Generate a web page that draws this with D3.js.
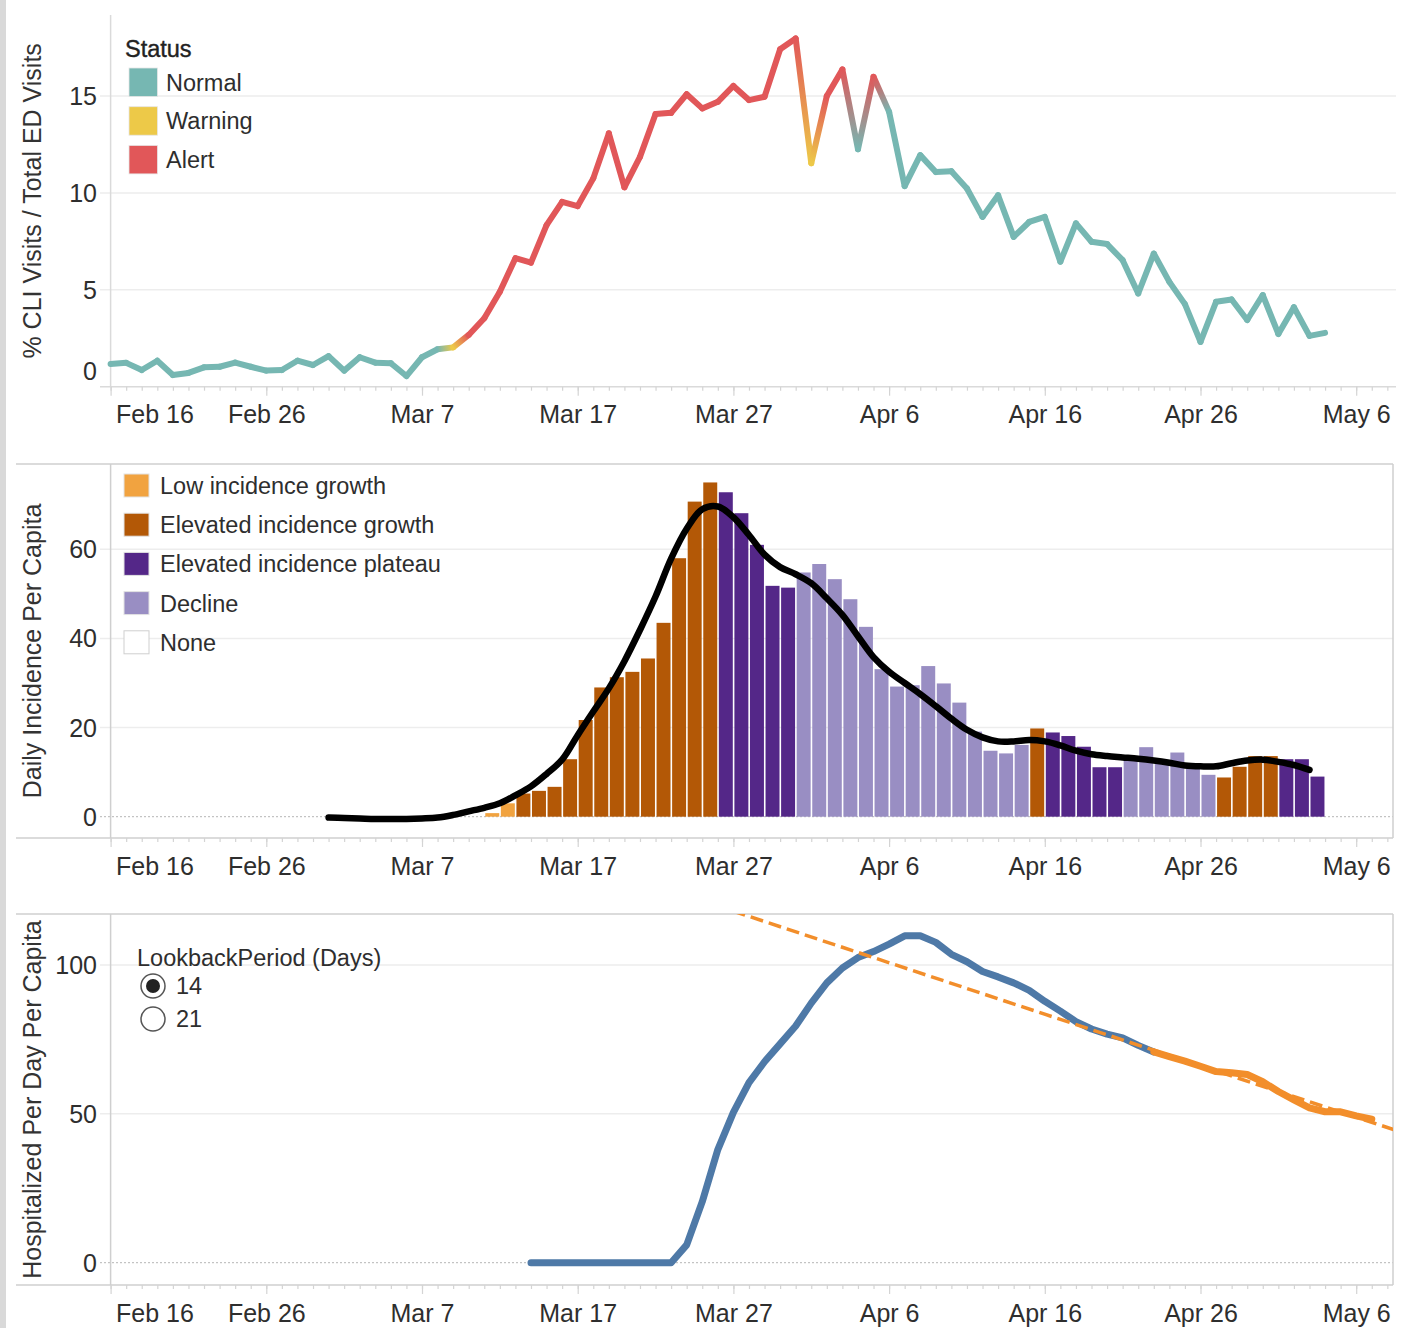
<!DOCTYPE html>
<html><head><meta charset="utf-8">
<script src="https://cdn.jsdelivr.net/npm/d3@7"></script>
<style>
html,body{margin:0;padding:0;background:#fff;}
svg{display:block;font-family:"Liberation Sans",Arial,sans-serif;}
</style></head><body>
<svg id="chart" width="1414" height="1328"></svg>
<script>
// ================= DATA =================
// X axis tick labels (dates)
const xTickDates = ["2020-02-16","2020-02-26","2020-03-07","2020-03-17","2020-03-27","2020-04-06","2020-04-16","2020-04-26","2020-05-06"];

// Panel 1: % CLI visits / total ED visits, daily from Feb 16 to May 4
const cliStart = "2020-02-16";
const cliValues = [
  1.17,1.23,0.86,1.34,0.60,0.71,1.00,1.03,1.24,1.03,0.83,0.86,1.34,1.12,
  1.58,0.83,1.52,1.24,1.21,0.55,1.52,1.93,2.03,2.67,3.53,4.90,6.63,6.40,8.34,9.54,9.32,10.75,13.07,10.29,11.86,14.07,14.13,15.09,14.36,14.70,15.52,14.79,14.96,17.41,17.97,
  11.53,15.00,16.37,12.25,15.99,14.18,10.35,11.95,11.08,11.12,10.23,8.76,9.88,7.73,8.50,8.76,6.45,8.43,7.48,7.36,6.53,4.81,6.87,5.41,4.26,2.31,4.38,4.50,3.44,4.73,
  2.72,4.10,2.62,2.78
];
// status per day: N = Normal, W = Warning, A = Alert
const cliStatus = (
  "NNNNNNNNNNNNNN" +                                   // Feb 16-29
  "NNNNNNNN" + "W" + "AAAAAAAAAA" + "AAAAAAAAAA" + "AA" + // Mar 1-31
  "WAANA" + "NNNNNNNNNN" + "NNNNNNNNNN" + "NNNNN" +      // Apr 1-30
  "NNNN"                                               // May 1-4
).split("");
const cliYTicks = [0,5,10,15];
const statusNames = ["Normal","Warning","Alert"];
const statusCodes = ["N","W","A"];
const statusColors = ["#76b7b2","#edc948","#e15759"];

// Panel 2: daily incidence per capita bars, Mar 11 - May 3
const incStart = "2020-03-11";
const incValues = [
  0.8,3.0,5.2,5.8,6.7,12.9,21.7,29.0,31.3,32.5,35.5,43.5,58.0,70.7,75.0,72.8,68.1,61.0,51.8,51.4,54.8,
  56.7,53.3,48.8,42.6,33.1,29.2,29.5,33.8,29.9,25.6,19.1,14.8,14.2,16.1,19.8,18.9,18.1,15.7,11.1,11.1,13.5,15.6,12.7,14.4,11.8,9.4,8.8,11.2,13.6,13.6,
  12.9,12.9,9.0
];
// phase: L = Low incidence growth, G = Elevated growth, P = Elevated plateau, D = Decline
const incPhase = (
  "LL" + "GGGGGGGGGGGGG" + "PPPPP" + "D" +               // Mar 11-31
  "DDDDDDDDDDDDDD" + "G" + "PPPPP" + "DDDDDD" + "GGGG" +  // Apr 1-30
  "PPP"                                                  // May 1-3
).split("");
// smoothed incidence (black curve), Mar 1 - May 3
const smoothStart = "2020-03-01";
const smoothValues = [
  -0.2,-0.3,-0.4,-0.5,-0.5,-0.5,-0.4,-0.2,0.4,1.2,2.0,3.0,4.8,6.8,9.6,12.8,18.3,23.6,28.8,34.9,41.9,49.4,57.9,64.6,69.0,69.6,67.2,63.2,58.8,56.0,54.4,
  52.4,49.0,45.3,40.5,35.8,32.5,30.0,27.5,24.8,22.0,19.5,17.8,16.9,16.9,17.2,16.9,16.0,14.8,14.0,13.6,13.3,13.0,12.6,12.1,11.5,11.3,11.3,12.0,12.6,12.8,
  12.3,11.6,10.5
];
const incYTicks = [0,20,40,60];
const phaseNames = ["Low incidence growth","Elevated incidence growth","Elevated incidence plateau","Decline","None"];
const phaseCodes = ["L","G","P","D","X"];
const phaseColors = ["#f1a340","#b35806","#542788","#998ec3","#ffffff"];

// Panel 3: hospitalized per day per capita, Mar 14 - Apr 23 (history) and Apr 23 - May 7 (lookback window)
const hospStart = "2020-03-14";
const hospValues = [
  0,0,0,0,0,0,0,0,0,0,6.0,20.5,38.0,50.5,60.5,67.5,73.5,79.5,
  87.2,94.0,99.0,102.5,104.5,107.0,109.8,109.8,107.6,103.6,101.1,97.8,96.0,94.0,91.5,87.8,84.5,81.0,78.5,76.8,75.5,73.0,70.8
];
const lookStart = "2020-04-23";
const lookValues = [70.8,69.2,67.7,66.0,64.2,63.8,63.2,60.8,57.5,54.7,52.0,50.7,50.7,49.3,48.2];
const hospYTicks = [0,50,100];
const lookbackOptions = ["14","21"];

// ================= CHART =================
const svg = d3.select("#chart");
const parse = d3.utcParse("%Y-%m-%d");
const DAY = 864e5;
const dateAt = (s, i) => new Date(parse(s).getTime() + i * DAY);
const fmt = d3.utcFormat("%b %-d");
const FONT_TICK = 25, FONT_LEG = 23.5, FONT_TITLE = 25;
const TXT = "#2e2e2e";

const x = d3.scaleUtc().domain([parse("2020-02-16"), parse("2020-05-06")]).range([110.6, 1356.2]);

// left grey strip
svg.append("rect").attr("x",0).attr("y",0).attr("width",6).attr("height",1328).attr("fill","#d9d9d9");

const defs = svg.append("defs");

function xAxis(yPos, right) {
  const g = svg.append("g").attr("transform", `translate(0,${yPos})`);
  const end = x.invert(right);
  const minor = d3.utcDay.range(parse("2020-02-16"), end);
  g.append("g").call(d3.axisBottom(x).tickValues(minor).tickSize(4).tickFormat(""))
    .call(s => s.select(".domain").remove())
    .call(s => s.selectAll("line").attr("stroke","#d4d4d4").attr("stroke-width",1.2));
  const major = g.append("g").call(d3.axisBottom(x).tickValues(xTickDates.map(parse)).tickSize(9).tickPadding(10).tickFormat(fmt))
    .call(s => s.select(".domain").remove())
    .call(s => s.selectAll("line").attr("stroke","#d4d4d4").attr("stroke-width",1.2))
    .call(s => s.selectAll("text").attr("font-size",FONT_TICK).attr("fill",TXT).attr("font-family","Liberation Sans, Arial, sans-serif"));
  major.select(".tick text").attr("text-anchor","start").attr("x",5);
}

function yLabels(y, ticks, bottom) {
  svg.append("g").selectAll("text").data(ticks).join("text")
    .attr("x",97).attr("y", d => Math.min(y(d), bottom - 16)).attr("dy","0.36em")
    .attr("text-anchor","end").attr("font-size",FONT_TICK).attr("fill",TXT).text(d => d);
}

function grid(y, ticks, x0, x1) {
  svg.append("g").selectAll("line").data(ticks).join("line")
    .attr("x1",x0).attr("x2",x1).attr("y1",d=>y(d)).attr("y2",d=>y(d))
    .attr("stroke","#ededed").attr("stroke-width",1.5);
}

function yTitle(text, cy) {
  svg.append("text").attr("transform",`translate(32,${cy}) rotate(-90)`)
    .attr("text-anchor","middle").attr("dy","0.35em")
    .attr("font-size",FONT_TITLE).attr("fill","#333").text(text);
}

function frame(top, bottom, right) {
  const g = svg.append("g").attr("stroke","#cfcfcf").attr("stroke-width",1.5).attr("fill","none");
  g.append("line").attr("x1",16).attr("x2",right).attr("y1",top).attr("y2",top);
  g.append("line").attr("x1",16).attr("x2",right).attr("y1",bottom).attr("y2",bottom);
  g.append("line").attr("x1",right).attr("x2",right).attr("y1",top).attr("y2",bottom);
}

function zeroLine(y, right) {
  svg.append("line").attr("x1",100).attr("x2",right).attr("y1",y(0)).attr("y2",y(0))
    .attr("stroke","#b5b5b5").attr("stroke-width",1).attr("stroke-dasharray","2,2");
}

// ---------- Panel 1 ----------
{
  const top = 15, bottom = 386.7, right = 1396;
  const y = d3.scaleLinear().domain([0,15]).range([bottom, 96]);
  grid(y, cliYTicks.filter(d => d > 0), 100, right);
  svg.append("line").attr("x1",100).attr("x2",right).attr("y1",bottom).attr("y2",bottom).attr("stroke","#dadada").attr("stroke-width",1.5);
  svg.append("line").attr("x1",110.6).attr("x2",110.6).attr("y1",top).attr("y2",bottom).attr("stroke","#dadada").attr("stroke-width",1.5);
  xAxis(bottom, right);
  yLabels(y, cliYTicks, bottom);
  yTitle("% CLI Visits / Total ED Visits", (top + bottom) / 2);

  const colorOf = c => statusColors[statusCodes.indexOf(c)];
  const pts = cliValues.map((v,i) => ({ date: dateAt(cliStart, i), v, s: cliStatus[i] }));
  const lg = svg.append("g").attr("fill","none").attr("stroke-width",6).attr("stroke-linecap","round");
  pts.slice(0,-1).forEach((d,i) => {
    const n = pts[i+1];
    const x1 = x(d.date), y1 = y(d.v), x2 = x(n.date), y2 = y(n.v);
    let stroke = colorOf(d.s);
    if (d.s !== n.s) {
      const id = "seg" + i;
      const gr = defs.append("linearGradient").attr("id",id).attr("gradientUnits","userSpaceOnUse")
        .attr("x1",x1).attr("y1",y1).attr("x2",x2).attr("y2",y2);
      gr.append("stop").attr("offset",0).attr("stop-color",colorOf(d.s));
      gr.append("stop").attr("offset",1).attr("stop-color",colorOf(n.s));
      stroke = `url(#${id})`;
    }
    lg.append("line").attr("x1",x1).attr("y1",y1).attr("x2",x2).attr("y2",y2).attr("stroke",stroke);
  });

  // legend
  const leg = svg.append("g");
  leg.append("text").attr("x",125).attr("y",57).attr("font-size",FONT_LEG).attr("fill","#222")
    .attr("stroke","#222").attr("stroke-width",0.4).text("Status");
  statusNames.forEach((name,i) => {
    const yy = 68 + i * 38.7;
    leg.append("rect").attr("x",129).attr("y",yy).attr("width",28.5).attr("height",28.5)
      .attr("fill",statusColors[i]).attr("stroke","#e6e6e6").attr("stroke-width",0.8);
    leg.append("text").attr("x",166).attr("y",yy + 14.2).attr("dy","0.36em")
      .attr("font-size",FONT_LEG).attr("fill",TXT).text(name);
  });
}

// ---------- Panel 2 ----------
{
  const top = 464, bottom = 838, right = 1393;
  const y = d3.scaleLinear().domain([0,60]).range([816.7, 549.3]);
  grid(y, incYTicks.filter(d => d > 0), 100, right);
  zeroLine(y, right);
  frame(top, bottom, right);
  svg.append("line").attr("x1",110.6).attr("x2",110.6).attr("y1",top).attr("y2",bottom).attr("stroke","#cfcfcf").attr("stroke-width",1.5);
  xAxis(bottom, right);
  yLabels(y, incYTicks, bottom);
  yTitle("Daily Incidence Per Capita", (top + bottom) / 2);

  const bars = incValues.map((v,i) => ({ date: dateAt(incStart, i), v, p: incPhase[i] }));
  const dayW = x(dateAt(incStart,1)) - x(dateAt(incStart,0));
  svg.append("g").selectAll("rect").data(bars).join("rect")
    .attr("x", d => x(d.date) + 1)
    .attr("width", dayW - 1.6)
    .attr("y", d => y(d.v))
    .attr("height", d => y(0) - y(d.v))
    .attr("fill", d => phaseColors[phaseCodes.indexOf(d.p)]);

  const sm = smoothValues.map((v,i) => ({ date: dateAt(smoothStart, i), v }));
  svg.append("path").datum(sm)
    .attr("d", d3.line().x(d => x(d.date)).y(d => y(d.v)).curve(d3.curveCatmullRom.alpha(0.5)))
    .attr("fill","none").attr("stroke","#000").attr("stroke-width",6.5).attr("stroke-linecap","round").attr("stroke-linejoin","round");

  const leg = svg.append("g");
  phaseNames.forEach((name,i) => {
    const yy = 474 + i * 39.2;
    leg.append("rect").attr("x",124).attr("y",yy).attr("width",25).attr("height",23)
      .attr("fill",phaseColors[i]).attr("stroke", i === 4 ? "#cfcfcf" : "#e3e3e3").attr("stroke-width",1);
    leg.append("text").attr("x",160).attr("y",yy + 11.5).attr("dy","0.36em")
      .attr("font-size",FONT_LEG).attr("fill",TXT).text(name);
  });
}

// ---------- Panel 3 ----------
{
  const top = 914, bottom = 1285, right = 1393;
  const y = d3.scaleLinear().domain([0,100]).range([1262.7, 965]);
  grid(y, hospYTicks.filter(d => d > 0), 100, right);
  zeroLine(y, right);
  frame(top, bottom, right);
  svg.append("line").attr("x1",110.6).attr("x2",110.6).attr("y1",top).attr("y2",bottom).attr("stroke","#cfcfcf").attr("stroke-width",1.5);
  xAxis(bottom, right);
  yLabels(y, hospYTicks, bottom);
  yTitle("Hospitalized Per Day Per Capita", (top + bottom) / 2);

  defs.append("clipPath").attr("id","clip3").append("rect")
    .attr("x",110.6).attr("y",top).attr("width",right - 110.6).attr("height",bottom - top);

  const hist = hospValues.map((v,i) => ({ date: dateAt(hospStart, i), v }));
  const look = lookValues.map((v,i) => ({ date: dateAt(lookStart, i), v }));
  const line = d3.line().x(d => x(d.date)).y(d => y(d.v));

  svg.append("path").datum(hist).attr("d", line)
    .attr("fill","none").attr("stroke","#4e79a7").attr("stroke-width",7).attr("stroke-linejoin","round").attr("stroke-linecap","round");

  // least-squares trend over the lookback window
  const t0 = look[0].date.getTime();
  const xs = look.map(d => (d.date.getTime() - t0) / DAY), ys = look.map(d => d.v);
  const mx = d3.mean(xs), my = d3.mean(ys);
  const slope = d3.sum(xs, (xv,i) => (xv - mx) * (ys[i] - my)) / d3.sum(xs, xv => (xv - mx) ** 2);
  const trendAt = date => my + slope * ((date.getTime() - t0) / DAY - mx);
  const tStart = parse("2020-03-20"), tEnd = parse("2020-05-12");
  svg.append("path").datum([tStart, tEnd])
    .attr("d", d3.line().x(d => x(d)).y(d => y(trendAt(d))))
    .attr("clip-path","url(#clip3)")
    .attr("fill","none").attr("stroke","#f28e2b").attr("stroke-width",3.5).attr("stroke-dasharray","13,6");

  svg.append("path").datum(look).attr("d", line)
    .attr("fill","none").attr("stroke","#f28e2b").attr("stroke-width",7).attr("stroke-linejoin","round").attr("stroke-linecap","round");

  const leg = svg.append("g");
  leg.append("text").attr("x",137).attr("y",966).attr("font-size",FONT_LEG).attr("fill",TXT).text("LookbackPeriod (Days)");
  lookbackOptions.forEach((o,i) => {
    const cy = 986 + i * 33;
    leg.append("circle").attr("cx",153).attr("cy",cy).attr("r",12).attr("fill","#fff").attr("stroke","#555").attr("stroke-width",1.5);
    if (i === 0) leg.append("circle").attr("cx",153).attr("cy",cy).attr("r",7).attr("fill","#222");
    leg.append("text").attr("x",176).attr("y",cy).attr("dy","0.36em").attr("font-size",FONT_LEG).attr("fill",TXT).text(o);
  });
}
</script>
</body></html>
